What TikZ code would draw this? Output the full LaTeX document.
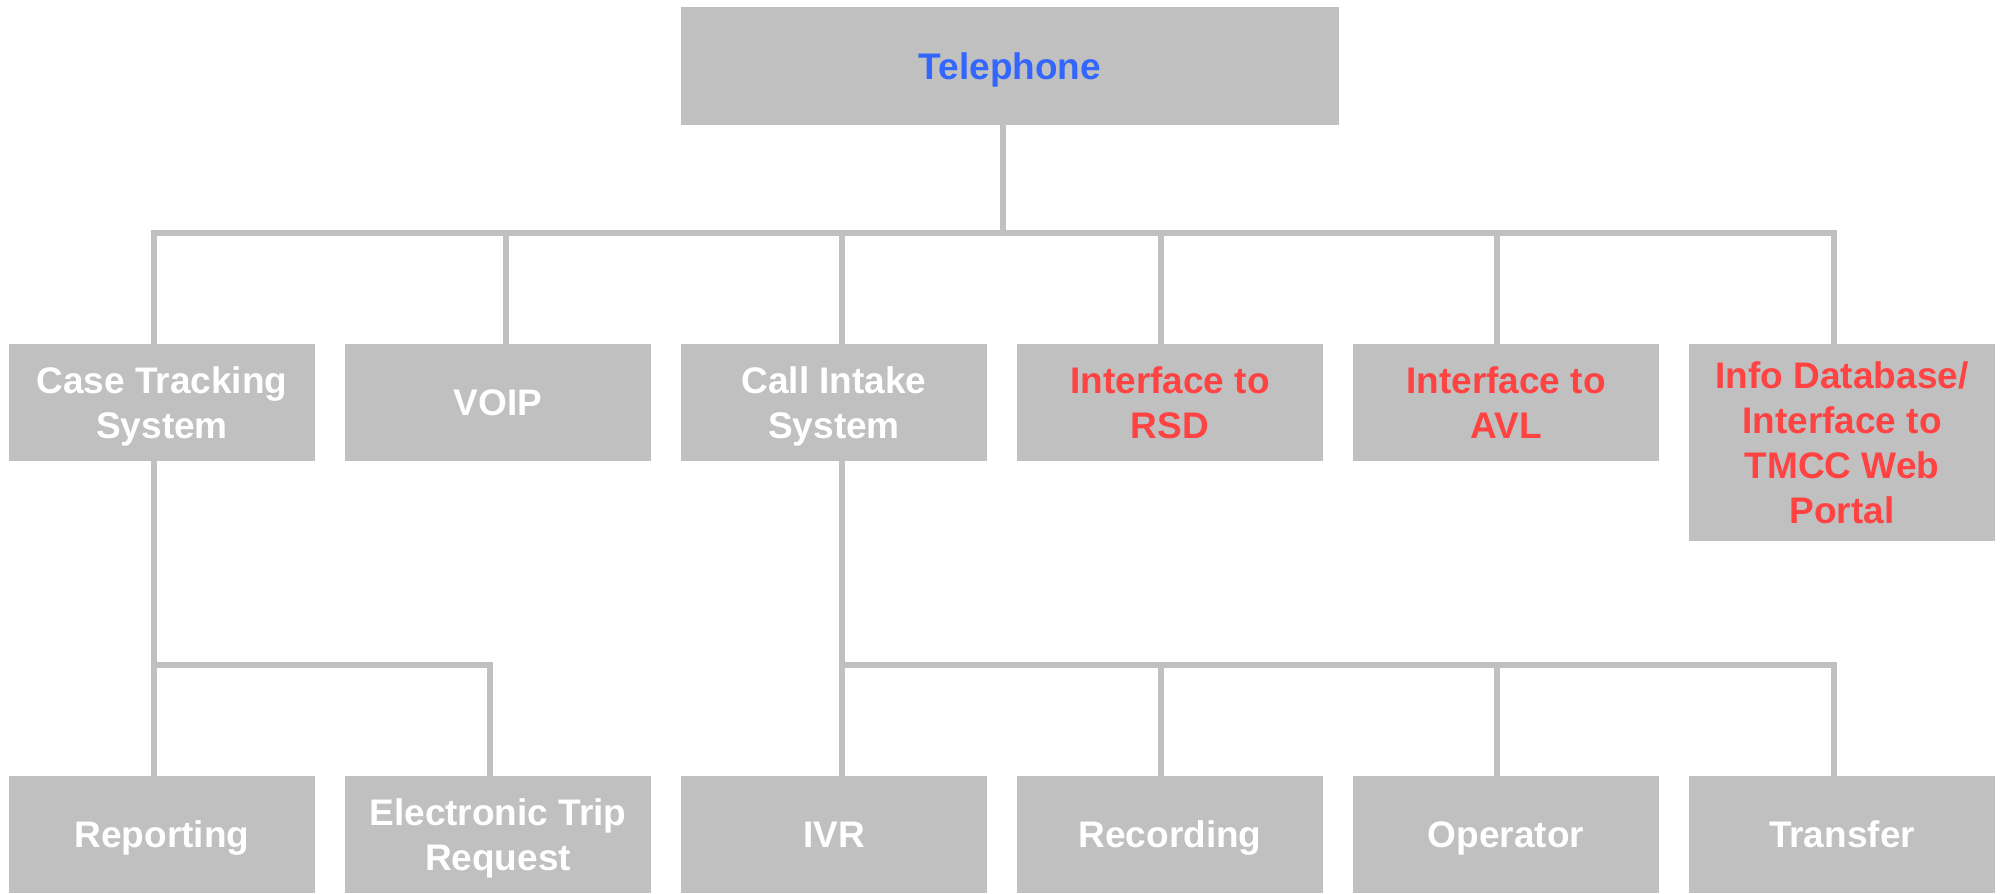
\documentclass[tikz,border=0pt]{standalone}
\usepackage{fontspec}
\setmainfont{Liberation Sans}
\usepackage{xcolor}
\usepackage{tikz}
\usetikzlibrary{positioning,calc}
\definecolor{boxgray}{HTML}{C0C0C0}
\definecolor{telblue}{HTML}{3366FF}
\definecolor{ifred}{HTML}{FF4242}

\begin{document}
\begin{tikzpicture}[x=0.5pt,y=-0.5pt,
        box/.style={fill=boxgray,minimum width=153pt,minimum height=58.5pt,inner sep=0pt,align=center,
            text=white,text depth=0pt,font=\bfseries\fontsize{18.5}{22.5}\selectfont},
        link/.style={draw=boxgray,line width=2.8pt}]
        \useasboundingbox (0,0) rectangle (2005,893);

        \node[box,minimum width=329pt,minimum height=59pt,text=telblue] (tel) at (1010,66) {Telephone}; % top

        % first row
        \node[box] (cts) at (162,402.5) {Case Tracking\\System};
        \node[box] (voip) at (498,402.5) {VOIP};
        \node[box] (cis) at (834,402.5) {Call Intake\\System};
        \node[box,text=ifred] (rsd) at (1170,402.5) {Interface to\\RSD};
        \node[box,text=ifred] (avl) at (1506,402.5) {Interface to\\AVL};
        \node[box,text=ifred,minimum height=98.5pt] (info) at (1842,442.5) {Info Database/\\Interface to\\TMCC Web\\Portal};

        % second row
        \node[box] (rep) at (162,834.5) {Reporting};
        \node[box] (etr) at (498,834.5) {Electronic Trip\\Request};
        \node[box] (ivr) at (834,834.5) {IVR};
        \node[box] (rec) at (1170,834.5) {Recording};
        \node[box] (opr) at (1506,834.5) {Operator};
        \node[box] (trf) at (1842,834.5) {Transfer};

        \coordinate (busa) at (0,233);
        \coordinate (busb) at (0,665);

        % drop points, a bit off centre as in the chart
        \coordinate (tel-j) at ([xshift=-3.5pt]tel.south);
        \foreach \n/\d in {cts/-4,voip/4,cis/4,rsd/-4.5,avl/-4.5,info/-4,rep/-4,etr/-4,ivr/4,rec/-4.5,opr/-4.5,trf/-4}
            \coordinate (\n-j) at ([xshift=\d pt]\n.north);
        \coordinate (cts-d) at ([xshift=-4pt]cts.south);
        \coordinate (cis-d) at ([xshift=4pt]cis.south);

        \draw[link] (tel-j) -- (tel-j |- busa);
        \draw[link] (cts-j) -- (cts-j |- busa) -- (info-j |- busa) -- (info-j);
        \foreach \n in {voip,cis,rsd,avl}
            \draw[link] (\n-j |- busa) -- (\n-j);

        \draw[link] (cts-d) -- (rep-j);
        \draw[link] (cts-d |- busb) -- (etr-j |- busb) -- (etr-j);
        \draw[link] (cis-d) -- (ivr-j);
        \draw[link] (cis-d |- busb) -- (trf-j |- busb) -- (trf-j);
        \foreach \n in {rec,opr}
            \draw[link] (\n-j |- busb) -- (\n-j);
    \end{tikzpicture}
\end{document}
